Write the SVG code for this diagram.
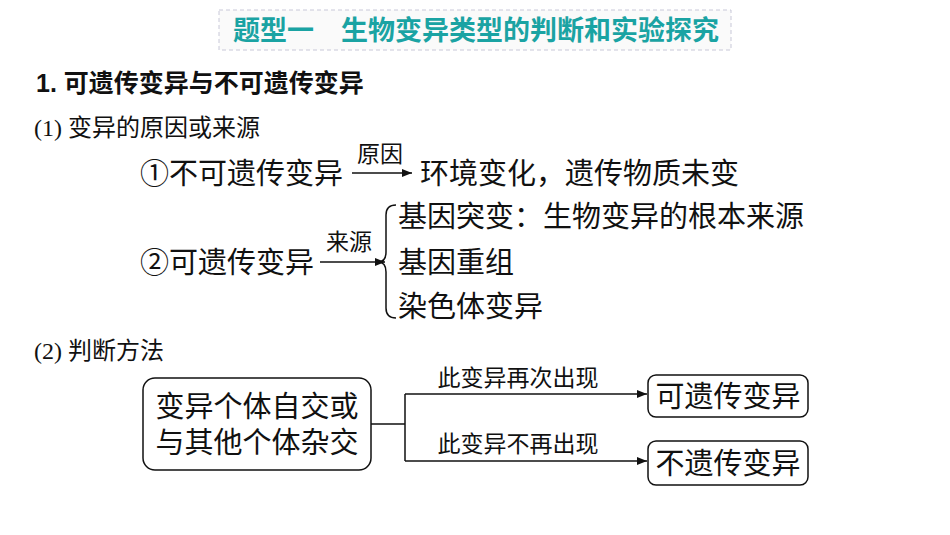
<svg xmlns="http://www.w3.org/2000/svg" width="950" height="535" viewBox="0 0 950 535">
<style>
text{font-family:"Liberation Serif","Noto Sans CJK SC",serif;fill:#111}
.t{font-family:"Liberation Sans","Noto Sans CJK SC",sans-serif;font-weight:bold;fill:#1aa3a3;font-size:27px}
.h{font-family:"Liberation Sans","Noto Sans CJK SC",sans-serif;font-weight:bold;font-size:25px}
.s{font-size:24px}.b{font-size:29px}.l{font-size:23px}
.ln{stroke:#111;stroke-width:1.5;fill:none}
.box{fill:#fff;stroke:#111;stroke-width:1.5}
</style>
<defs><marker id="a" markerWidth="10" markerHeight="8" refX="10" refY="4" orient="auto" markerUnits="userSpaceOnUse"><path d="M0,0L10,4L0,8z" fill="#111"/></marker></defs>
<rect x="219" y="10" width="512" height="40" fill="#fafafa" stroke="#c8c8d8" stroke-dasharray="4,3"/>
<text class="t" x="476" y="40" text-anchor="middle" xml:space="preserve">题型一　生物变异类型的判断和实验探究</text>
<text class="h" x="36" y="92">1. 可遗传变异与不可遗传变异</text>
<text class="s" x="34" y="136">(1) 变异的原因或来源</text>
<text class="b" x="140" y="184">①不可遗传变异</text>
<text class="l" x="357" y="162">原因</text>
<text class="b" x="420" y="184">环境变化，遗传物质未变</text>
<text class="b" x="140" y="273">②可遗传变异</text>
<text class="l" x="326" y="250">来源</text>
<text class="b" x="398" y="227">基因突变：生物变异的根本来源</text>
<text class="b" x="398" y="273">基因重组</text>
<text class="b" x="398" y="317">染色体变异</text>
<text class="s" x="34" y="359">(2) 判断方法</text>
<g id="n1"><rect class="box" x="143" y="378" width="228" height="92" rx="12"/>
<text class="b" x="257" y="417" text-anchor="middle">变异个体自交或</text>
<text class="b" x="257" y="453" text-anchor="middle">与其他个体杂交</text></g>
<g id="n2"><rect class="box" x="648" y="375" width="160" height="42" rx="8"/><text class="b" x="728" y="407" text-anchor="middle">可遗传变异</text></g>
<g id="n3"><rect class="box" x="648" y="441" width="160" height="44" rx="8"/><text class="b" x="728" y="474" text-anchor="middle">不遗传变异</text></g>
<g id="connectors">
<line class="ln" x1="352" y1="173" x2="412" y2="173" marker-end="url(#a)"/>
<line class="ln" x1="320" y1="262" x2="385" y2="262" marker-end="url(#a)"/>
<path class="ln" d="M396,205 Q386,205 386,215 L386,252 Q386,262 378,262 Q386,262 386,272 L386,308 Q386,318 396,318"/>
<path class="ln" d="M371,424 H405 M405,394 V461"/>
<line class="ln" x1="405" y1="394" x2="647" y2="394" marker-end="url(#a)"/>
<line class="ln" x1="405" y1="461" x2="647" y2="461" marker-end="url(#a)"/>
<text class="l" x="518" y="386" text-anchor="middle">此变异再次出现</text>
<text class="l" x="518" y="452" text-anchor="middle">此变异不再出现</text>
</g>
</svg>
